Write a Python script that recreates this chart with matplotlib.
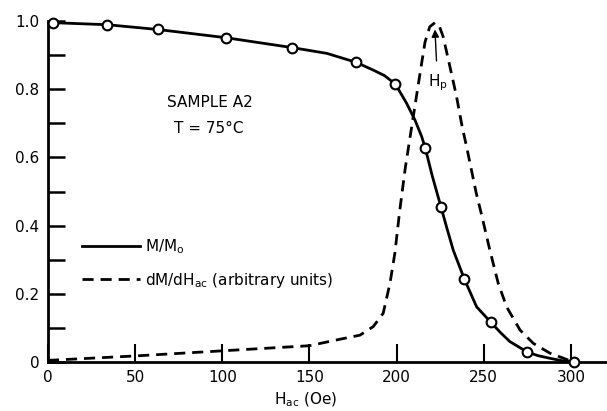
import numpy as np
import matplotlib.pyplot as plt

# M/M0 measured points (circles)
h_pts = [3, 34, 63, 102, 140, 176.6, 199.3, 216.4, 225.5, 238.9, 254, 274.8, 302]
m_pts = [0.995, 0.989, 0.975, 0.951, 0.922, 0.879, 0.815, 0.628, 0.454, 0.243, 0.117, 0.030, 0.0]

# solid curve through the points
h_solid = [3, 34, 63, 102, 140, 160, 176.6, 186.6, 193, 199.3, 205.7, 210.5, 214.4, 216.4,
           220.5, 225.5, 229, 232.5, 238.9, 245.9, 254, 259.5, 265, 274.8, 281, 288, 295, 302]
m_solid = [0.995, 0.989, 0.975, 0.951, 0.922, 0.905, 0.879, 0.856, 0.840, 0.815, 0.759, 0.710, 0.661, 0.628,
           0.545, 0.454, 0.390, 0.328, 0.243, 0.162, 0.117, 0.087, 0.060, 0.030, 0.019, 0.011, 0.004, 0.0]

# dM/dHac curve (arbitrary units)
h_dash = [0, 50, 100, 150, 165.6, 179, 186.6, 192.3, 196.2, 199, 201.7, 205, 208.2, 210.5, 213.4, 216.3,
          219, 222, 224.5, 226.7, 230.6, 234.4, 237.6, 240, 245.7, 248.6, 253.5, 258.3, 263.1,
          270.8, 278.4, 288, 298.5]
d_dash = [0.005, 0.018, 0.033, 0.048, 0.065, 0.079, 0.104, 0.143, 0.231, 0.319, 0.44, 0.57, 0.675, 0.75, 0.845, 0.938,
          0.983, 0.995, 0.985, 0.954, 0.866, 0.778, 0.690, 0.635, 0.495, 0.435, 0.328, 0.231, 0.162,
          0.094, 0.055, 0.026, 0.006]

plt.rcParams['font.family'] = 'DejaVu Sans'

fig = plt.figure(figsize=(6.07, 4.11), dpi=100)
ax = fig.add_axes([0.079, 0.119, 0.919, 0.830])

ax.plot(h_solid, m_solid, color='black', lw=2.0, label=r'$\mathregular{M/M_o}$')
ax.plot(h_dash, d_dash, color='black', lw=2.0, ls=(0, (4, 2.5)),
        label=r'$\mathregular{dM/dH_{ac}}$ (arbitrary units)')
ax.plot(h_pts, m_pts, ls='none', marker='o', ms=7, mfc='white', mec='black', mew=1.5,
        clip_on=False, zorder=5)

ax.set_xlim(0, 320)
ax.set_ylim(0, 1.0)
ax.spines['top'].set_visible(False)
ax.spines['right'].set_visible(False)
ax.spines['left'].set_linewidth(2)
ax.spines['bottom'].set_linewidth(2)

ax.set_xticks([0, 50, 100, 150, 200, 250, 300])
ax.set_yticks([0, 0.2, 0.4, 0.6, 0.8, 1.0])
ax.set_yticklabels(['0', '0.2', '0.4', '0.6', '0.8', '1.0'])
ax.set_yticks(np.arange(0.1, 1.0, 0.2), minor=True)
ax.tick_params(axis='y', which='both', direction='in', length=12, width=1.8, labelsize=11, pad=6)
ax.tick_params(axis='x', which='both', direction='in', length=13, width=1.5, labelsize=11, pad=6)

ax.set_xlabel(r'$\mathregular{H_{ac}}$ (Oe)', fontsize=11, labelpad=3)
ax.xaxis.set_label_coords(0.462, -0.085)

ax.text(93, 0.76, 'SAMPLE A2', fontsize=11, ha='center', va='center')
ax.text(92, 0.686, 'T = 75°C', fontsize=11, ha='center', va='center')

ax.annotate(r'$\mathregular{H_p}$', xy=(222, 0.975), xytext=(223.5, 0.82),
            fontsize=11, ha='center', va='center',
            arrowprops=dict(arrowstyle='-|>', color='black', lw=1.0, shrinkA=6, shrinkB=0))

ax.legend(loc='upper left', bbox_to_anchor=(0.061, 0.365), frameon=False, fontsize=11,
          handlelength=3.8, handletextpad=0.35, labelspacing=0.95, borderpad=0, borderaxespad=0)

fig.savefig('out.png', dpi=100)
